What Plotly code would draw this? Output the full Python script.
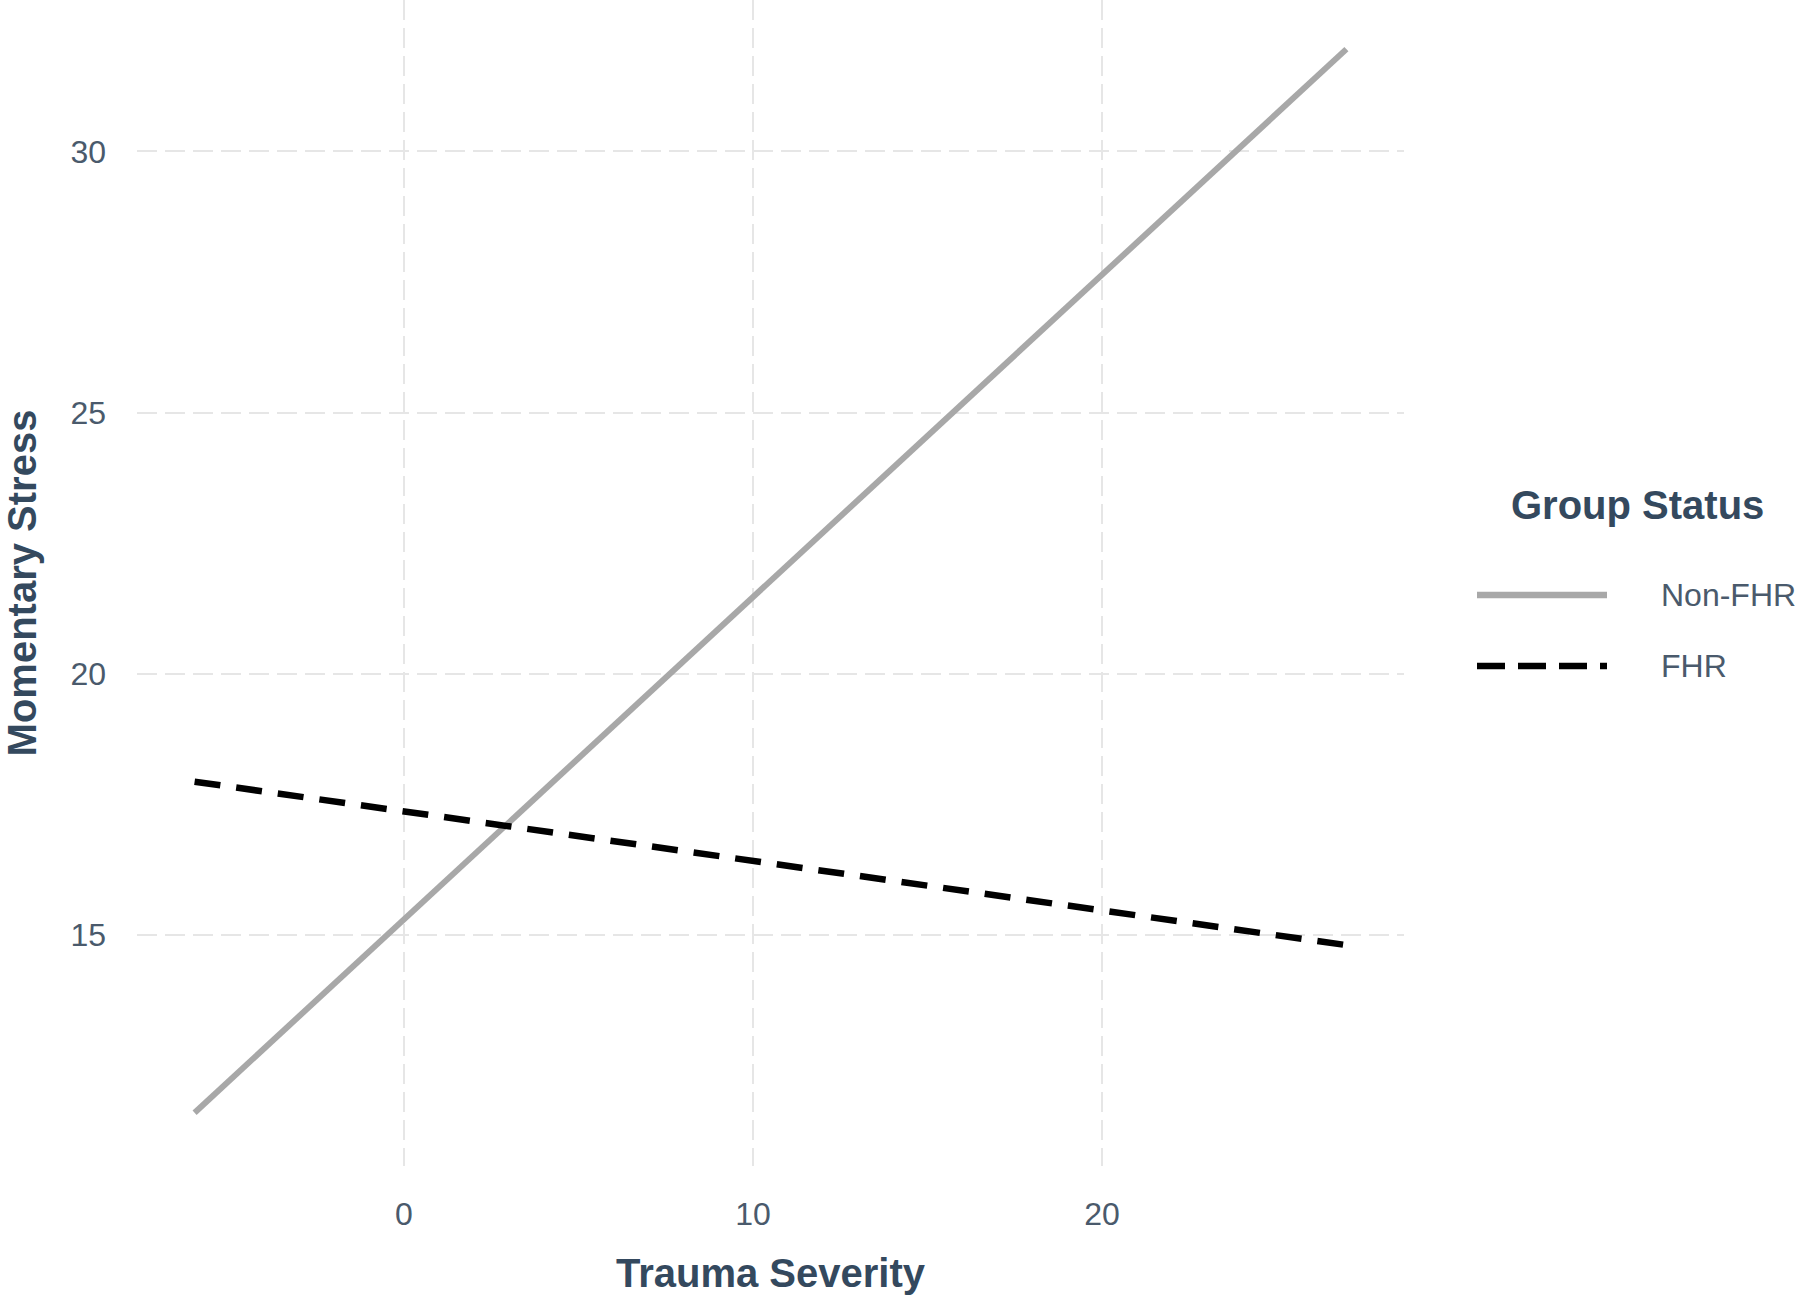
import plotly.graph_objects as go

# Data
trauma_x = [-6, 27]
non_fhr_y = [11.59, 31.96]
fhr_y = [17.93, 14.80]
group_names = ["Non-FHR", "FHR"]
x_ticks = [0, 10, 20]
y_ticks = [15, 20, 25, 30]

FONT = "Liberation Sans, Arial, sans-serif"
TITLE_COLOR = "#34495e"
TICK_COLOR = "#4a5a6c"
GRID = "#e6e6e6"
GRAY_LINE = "#a8a8a8"

fig = go.Figure()
fig.add_trace(go.Scatter(x=trauma_x, y=non_fhr_y, mode="lines", name=group_names[0],
                         line=dict(color=GRAY_LINE, width=6), showlegend=False))
fig.add_trace(go.Scatter(x=trauma_x, y=fhr_y, mode="lines", name=group_names[1],
                         line=dict(color="black", width=6.5, dash="26px,16px"), showlegend=False))

fig.update_layout(
    width=1800, height=1299,
    margin=dict(l=137, r=396, t=0, b=133),
    paper_bgcolor="white", plot_bgcolor="white",
    font=dict(family=FONT, color=TICK_COLOR, size=32),
    xaxis=dict(range=[-7.65, 28.65], tickvals=x_ticks, showgrid=True, gridcolor=GRID,
               gridwidth=2, griddash="20px,8px", zeroline=False, showline=False,
               ticks="", ticklabelstandoff=26, automargin=False,
               tickfont=dict(size=32, color=TICK_COLOR, family=FONT),
               title=dict(text="<b>Trauma Severity</b>", standoff=27,
                          font=dict(size=40, color=TITLE_COLOR, family=FONT))),
    yaxis=dict(range=[10.57, 32.9], tickvals=y_ticks, showgrid=True, gridcolor=GRID,
               gridwidth=2, griddash="20px,8px", zeroline=False, showline=False,
               ticks="", ticklabelstandoff=30, automargin=False,
               tickfont=dict(size=32, color=TICK_COLOR, family=FONT),
               title=dict(text="<b>Momentary Stress</b>", standoff=33,
                          font=dict(size=40, color=TITLE_COLOR, family=FONT))),
)

# Manual legend (long line samples as in the reference)
# paper coords: x = (px - 137)/1267, y = (1166 - py)/1166
def px_x(px):
    return (px - 137) / 1267

def px_y(py):
    return (1166 - py) / 1166

fig.add_annotation(text="<b>Group Status</b>", xref="paper", yref="paper",
                   x=px_x(1509), y=px_y(505), xanchor="left", yanchor="middle",
                   showarrow=False, font=dict(size=40, color=TITLE_COLOR, family=FONT))
legend_styles = [dict(color=GRAY_LINE, width=6.5, dash="solid"),
                 dict(color="black", width=6.5, dash="28px,13px")]
legend_rows = [595, 666]
for name, style, row in zip(group_names, legend_styles, legend_rows):
    fig.add_shape(type="line", xref="paper", yref="paper",
                  x0=px_x(1477), x1=px_x(1607), y0=px_y(row), y1=px_y(row),
                  line=style)
    fig.add_annotation(text=name, xref="paper", yref="paper",
                       x=px_x(1659), y=px_y(row), xanchor="left", yanchor="middle",
                       showarrow=False, font=dict(size=32, color=TICK_COLOR, family=FONT))

fig.write_html("out.html")
